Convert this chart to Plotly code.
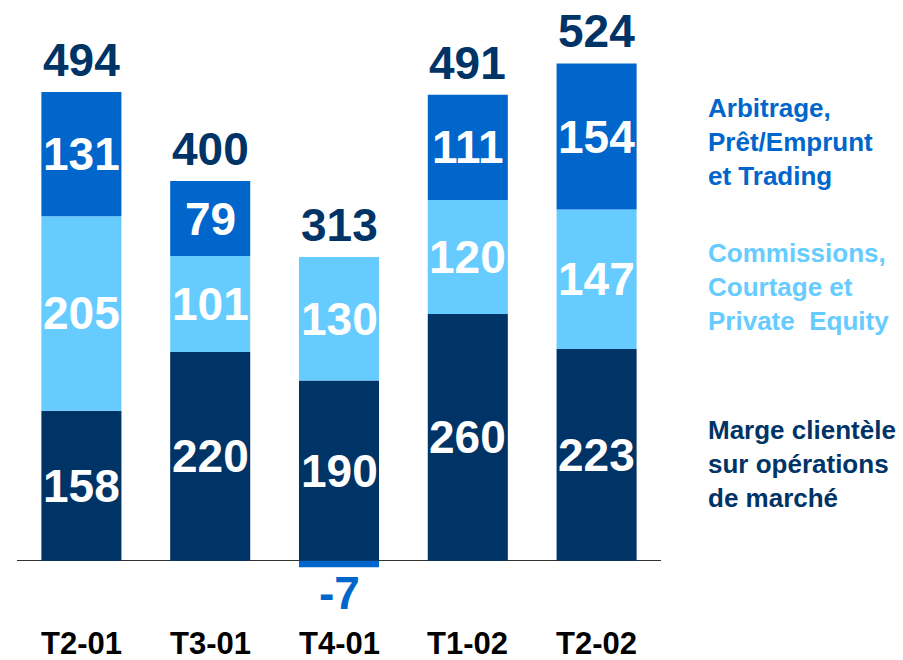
import plotly.graph_objects as go

categories = ["T2-01", "T3-01", "T4-01", "T1-02", "T2-02"]
marge = [158, 220, 190, 260, 223]
commissions = [205, 101, 130, 120, 147]
arbitrage = [131, 79, -7, 111, 154]
totals = [494, 400, 313, 491, 524]

series_names = [
    "Marge clientèle<br>sur opérations<br>de marché",
    "Commissions,<br>Courtage et<br>Private  Equity",
    "Arbitrage,<br>Prêt/Emprunt<br>et Trading",
]

C_DARK = "#003366"
C_LIGHT = "#66CCFF"
C_MED = "#0066CC"
FONT = "Liberation Sans"

W, H = 903, 660
ML, MR, MT, MB = 17, 242, 0, 0
BASE_PX = 560.7
SCALE = 0.949  # px per unit
y_top = (BASE_PX - MT) / SCALE
y_bot = -(H - MB - BASE_PX) / SCALE


def px_to_y(p):
    return (BASE_PX - p) / SCALE


fig = go.Figure()
for vals, col, name in [(marge, C_DARK, series_names[0]),
                        (commissions, C_LIGHT, series_names[1]),
                        (arbitrage, C_MED, series_names[2])]:
    fig.add_trace(go.Bar(x=categories, y=vals, marker=dict(color=col, line=dict(width=0)),
                         name=name, showlegend=False, hoverinfo="skip"))

ann = []
seg_font = dict(family=FONT, size=46, color="white", weight="bold")
for i, c in enumerate(categories):
    base_pos = 0
    base_neg = 0
    for vals in (marge, commissions, arbitrage):
        v = vals[i]
        if v >= 0:
            mid = base_pos + v / 2
            base_pos += v
            ann.append(dict(x=c, y=mid, text=str(v), showarrow=False, font=seg_font,
                            xanchor="center", yanchor="middle"))
        else:
            base_neg += v
            ann.append(dict(x=c, y=base_neg, text=str(v), showarrow=False,
                            font=dict(family=FONT, size=46, color=C_MED, weight="bold"),
                            xanchor="center", yanchor="middle", yshift=-26))
    ann.append(dict(x=c, y=base_pos, text=str(totals[i]), showarrow=False,
                    font=dict(family=FONT, size=46, color=C_DARK, weight="bold"),
                    xanchor="center", yanchor="middle", yshift=32))
    ann.append(dict(x=c, y=px_to_y(643), text=c, showarrow=False,
                    font=dict(family=FONT, size=31, color="black", weight="bold"),
                    xanchor="center", yanchor="middle"))

legend_pos = [(C_MED, series_names[2], 142), (C_LIGHT, series_names[1], 287),
              (C_DARK, series_names[0], 464)]
plot_w = W - ML - MR
for col, txt, py in legend_pos:
    ann.append(dict(xref="paper", yref="paper", x=(706 - ML) / plot_w, y=1 - py / H,
                    text=txt, showarrow=False, align="left", xanchor="left", yanchor="middle",
                    font=dict(family=FONT, size=26, color=col, weight="bold")))

fig.update_layout(
    width=W, height=H,
    margin=dict(l=ML, r=MR, t=MT, b=MB, pad=0),
    barmode="relative", bargap=1 - 80 / 128.75,
    plot_bgcolor="white", paper_bgcolor="white",
    annotations=ann, showlegend=False,
    xaxis=dict(showticklabels=False, showgrid=False, zeroline=False, showline=False,
               ticks="", range=[-0.5, 4.5], fixedrange=True),
    yaxis=dict(range=[y_bot, y_top], showticklabels=False, showgrid=False,
               zeroline=True, zerolinecolor="#333333", zerolinewidth=1.5, ticks="",
               fixedrange=True),
)

fig.write_html("out.html", config={"displayModeBar": False, "staticPlot": True},
               post_script="document.body.style.margin='0';document.body.style.overflow='hidden';")
